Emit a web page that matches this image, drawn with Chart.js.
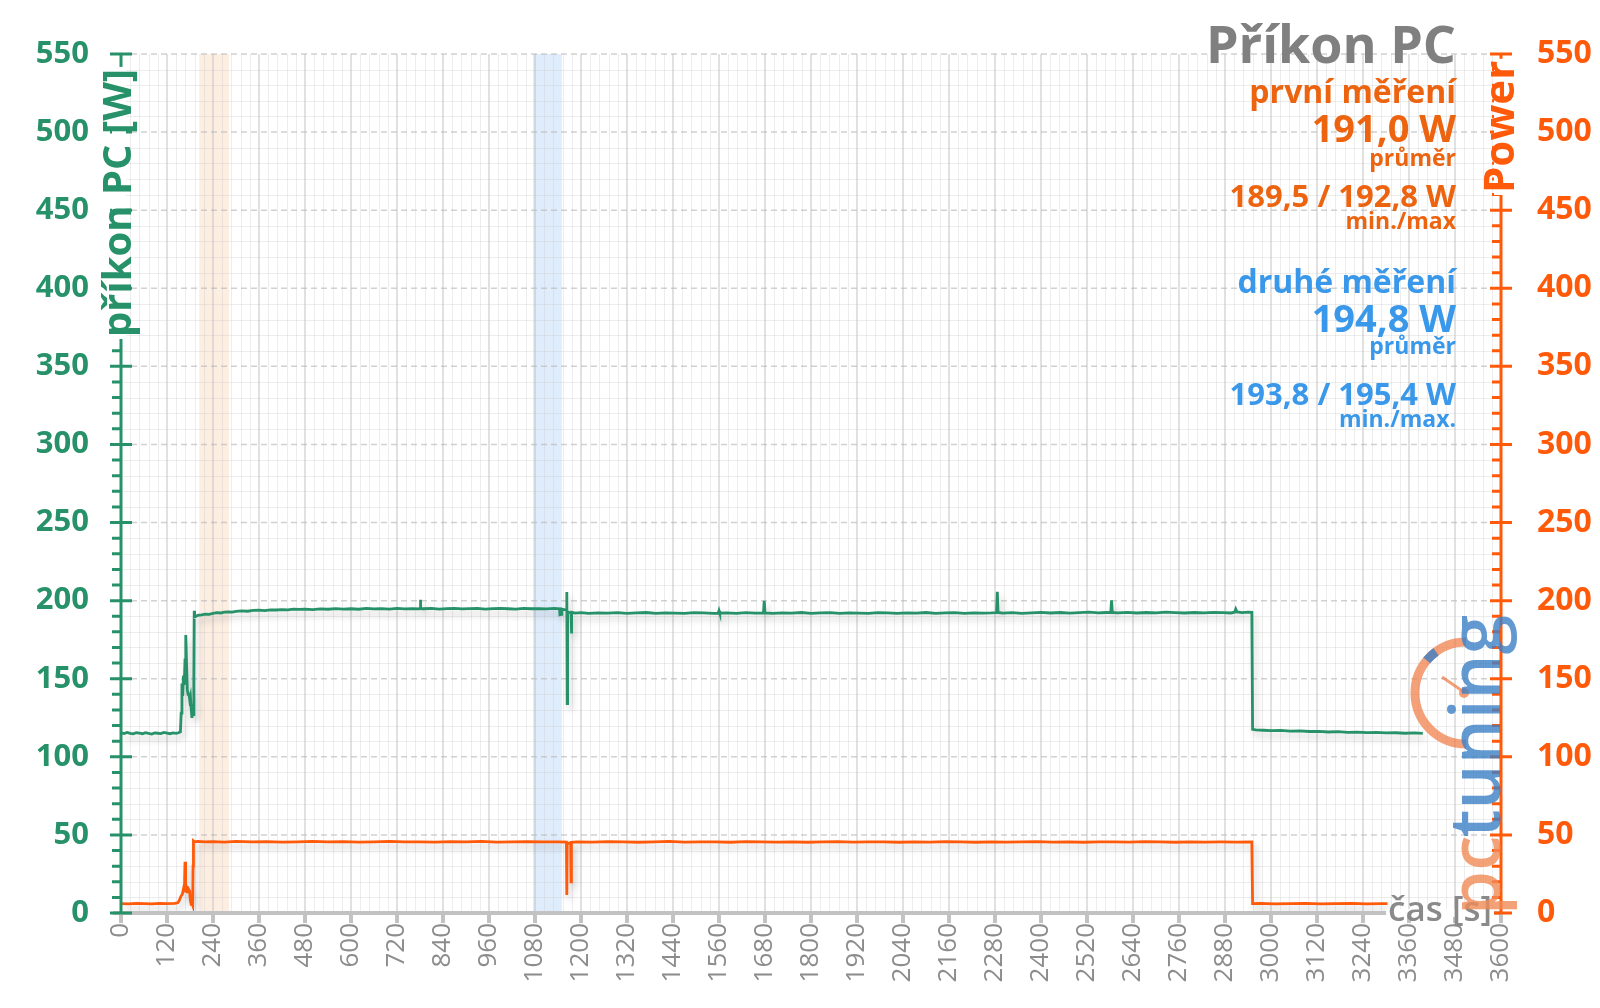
<!DOCTYPE html>
<html>
<head>
<meta charset="utf-8">
<script src="https://cdn.jsdelivr.net/npm/chart.js@4"></script>
<style>
html,body{margin:0;padding:0;background:#fff;}
canvas{display:block;}
</style>
</head>
<body>
<canvas id="c" width="1600" height="1008"></canvas>
<script>
// ---------- DATA ----------
const xTicksStep = 120;
const xMax = 3600;
const yMax = 550;

// příkon PC (green, left axis)
const greenT = [0,8,16,24,32,40,48,56,64,72,80,88,96,104,112,120,128,136,144,150,155,157,159,161,163,165,167,169,171,173,175,177,179,181,183,185,187,189,190,191,192,195,200,210,220,230,240,250,260,270,280,290,300,315,330,345,360,375,390,405,420,435,450,465,480,500,520,540,560,580,600,620,640,660,680,700,720,740,760,778,780,781,782,790,810,830,850,870,890,910,930,950,970,990,1010,1030,1050,1070,1090,1110,1130,1144,1145,1149,1150,1156,1162,1163,1164,1165,1170,1174,1175,1176,1185,1200,1220,1245,1270,1295,1320,1345,1370,1395,1420,1445,1470,1495,1520,1545,1558,1560,1562,1580,1605,1630,1655,1676,1678,1680,1700,1725,1750,1775,1800,1825,1850,1875,1900,1925,1950,1975,2000,2025,2050,2075,2100,2125,2150,2175,2200,2225,2250,2270,2284,2286,2288,2300,2325,2350,2375,2400,2425,2450,2475,2500,2525,2550,2570,2582,2584,2586,2600,2625,2650,2675,2700,2725,2750,2775,2800,2825,2850,2875,2895,2905,2908,2911,2925,2940,2950,2952,2960,2980,3000,3025,3050,3075,3100,3125,3150,3175,3200,3225,3250,3275,3300,3325,3350,3375,3396];
const greenV = [115.3,114.9,115.6,115.0,114.7,115.4,115.1,114.8,115.5,115.0,114.6,115.3,115.1,114.9,115.6,115.2,114.8,115.3,115.0,115.4,116.0,128,147,139,152,146,162,178,160,143,140,141,137,139,131,125,129,127,150,193.5,189.5,189.8,190.6,190.9,191.4,191.2,191.9,192.3,192.1,192.6,192.8,192.6,193.1,193.4,193.2,193.7,193.9,193.6,194.1,194.0,194.3,194.1,194.5,194.4,194.6,194.3,194.7,194.5,194.9,194.6,194.8,194.5,195.0,194.7,194.9,194.6,195.0,194.7,194.9,194.7,195.1,200.5,195.0,194.8,195.0,194.6,194.9,195.1,194.7,194.9,195.0,194.6,194.9,195.1,194.8,194.6,195.0,194.8,194.9,194.7,195.0,194.8,191.0,191.2,194.6,194.3,194.0,205.5,134,192.8,192.4,192.2,179,192.5,192.0,192.3,191.9,192.2,192.0,192.3,191.8,192.1,192.4,191.9,192.2,192.0,191.8,192.3,192.1,191.9,192.0,193.6,192.0,192.2,191.9,192.3,192.0,192.1,199.8,192.2,191.9,192.2,192.0,192.4,191.8,192.1,192.3,191.9,192.2,192.0,191.8,192.3,192.1,191.9,192.2,192.0,192.4,191.9,192.1,192.3,191.8,192.2,192.0,192.1,192.3,205.6,192.4,192.0,192.3,191.9,192.2,192.5,192.1,192.4,192.0,192.3,192.6,192.2,192.4,192.3,200.2,192.5,192.2,192.5,192.1,192.4,192.2,192.6,192.3,192.1,192.4,192.2,192.5,192.3,192.1,192.6,194.6,192.8,192.3,192.7,192.5,117.6,117.3,117.0,116.8,116.9,116.5,116.6,116.2,116.3,115.9,116.1,115.7,115.8,115.5,115.6,115.3,115.4,115.1,115.3,115.0];

// Power (orange, right axis)
const orangeT = [0,20,40,60,80,100,120,140,
  148,152,156,160,163,165,166,167,168,169,
  171,173,175,177,179,181,183,185,187,188,189,192,
  200,220,240,270,300,340,380,420,460,500,540,580,620,660,700,740,780,820,860,900,940,980,1020,1060,1100,1140,
  1162,1163,1164,1173,1174,1175,
  1190,1230,1270,1310,1350,1390,1430,1470,1510,1550,
  1590,1630,1670,1710,1750,1790,1830,1870,1910,1950,
  1990,2030,2070,2110,2150,2190,2230,2270,2310,2350,
  2390,2430,2470,2510,2550,2590,2630,2670,2710,2750,
  2790,2830,2870,2910,2950,
  2952,2970,3010,3050,3090,3130,3170,3210,3250,3290,3304];
const orangeV = [6.0,5.9,6.1,6.0,5.9,6.1,6.0,6.1,
  6.5,8,10.5,12,15.5,14,22,32.8,24,16,
  14.5,15.5,13.5,15.0,14.2,8,5.5,6.5,5.0,30,46.2,45.6,
  45.9,45.5,45.7,45.4,45.8,45.5,45.7,45.4,45.6,45.8,45.5,45.7,45.4,45.6,45.8,45.5,45.6,45.4,45.7,45.5,45.8,45.4,45.6,45.7,45.5,45.6,
  45.4,11.5,44.5,45.0,20,45.3,
  45.6,45.4,45.7,45.5,45.3,45.6,45.8,45.4,45.6,45.5,
  45.3,45.7,45.5,45.4,45.6,45.3,45.5,45.7,45.4,45.6,
  45.5,45.3,45.6,45.4,45.7,45.5,45.3,45.6,45.4,45.5,
  45.7,45.4,45.6,45.3,45.5,45.6,45.4,45.7,45.5,45.3,
  45.6,45.4,45.5,45.4,45.5,
  6.0,6.1,5.9,6.0,6.1,5.9,6.0,6.1,5.9,6.0,6.0];

// highlighted measurement windows (seconds)
const bandStart = [204, 1075];
const bandEnd = [282, 1150];

// side annotations
const infoLines = [
  ['Příkon PC', 'title'],
  ['první měření', 'o1'], ['191,0 W', 'o2'], ['průměr', 'o3'], ['189,5 / 192,8 W', 'o4'], ['min./max', 'o5'],
  ['druhé měření', 'b1'], ['194,8 W', 'b2'], ['průměr', 'b3'], ['193,8 / 195,4 W', 'b4'], ['min./max.', 'b5']
];
const yAxisTitle = 'příkon PC [W]';
const y2AxisTitle = 'Power';
const xAxisTitle = 'čas [s]';

// ---------- STYLE ----------
const GREEN = '#27916a';
const ORANGE = '#ff5a0a';
const ORANGE_T = '#ec6410';
const BLUE_T = '#3a98ea';
const GRAY_T = '#808080';
const FONT = '"Open Sans", "DejaVu Sans", sans-serif';
const infoStyle = {
  title:{y:63,size:52,color:GRAY_T},
  o1:{y:103,size:32,color:ORANGE_T}, o2:{y:142,size:38,color:ORANGE_T}, o3:{y:166,size:23,color:ORANGE_T}, o4:{y:207,size:31,color:ORANGE_T}, o5:{y:229,size:23,color:ORANGE_T},
  b1:{y:293,size:32,color:BLUE_T}, b2:{y:332,size:38,color:BLUE_T}, b3:{y:354,size:23,color:BLUE_T}, b4:{y:405,size:31,color:BLUE_T}, b5:{y:427,size:23,color:BLUE_T}
};

const greenData = greenT.map((t,i)=>({x:t,y:greenV[i]}));
const orangeData = orangeT.map((t,i)=>({x:t,y:orangeV[i]}));

const backPlugin = {
  id:'back',
  beforeDatasetsDraw(chart){
    const {ctx, chartArea:a, scales} = chart;
    const x = scales.x, y = scales.y;
    ctx.save();
    // bands
    const bandCols = ['rgba(250,200,160,0.30)','rgba(160,200,245,0.34)'];
    bandStart.forEach((s,i)=>{
      const p0 = x.getPixelForValue(s), p1 = x.getPixelForValue(bandEnd[i]);
      ctx.fillStyle = bandCols[i];
      ctx.fillRect(p0, a.top, p1-p0, a.bottom-a.top);
    });
    // minor grid
    ctx.lineWidth = 1;
    ctx.strokeStyle = 'rgba(200,200,200,0.32)';
    ctx.beginPath();
    for(let t=0;t<=xMax;t+=24){
      if(t%120===0) continue;
      const px = Math.round(x.getPixelForValue(t))+0.5;
      ctx.moveTo(px,a.top); ctx.lineTo(px,a.bottom);
    }
    for(let v=0;v<=yMax;v+=10){
      if(v%50===0) continue;
      const py = Math.round(y.getPixelForValue(v))+0.5;
      ctx.moveTo(a.left,py); ctx.lineTo(a.right,py);
    }
    ctx.stroke();
    // major vertical
    ctx.strokeStyle = 'rgba(190,190,190,0.6)';
    ctx.lineWidth = 1.5;
    ctx.beginPath();
    for(let t=120;t<xMax;t+=120){
      const px = x.getPixelForValue(t);
      ctx.moveTo(px,a.top); ctx.lineTo(px,a.bottom);
    }
    ctx.stroke();
    // major horizontal dashed
    ctx.setLineDash([6,4]);
    ctx.strokeStyle = 'rgba(185,185,185,0.65)';
    ctx.lineWidth = 1.5;
    ctx.beginPath();
    for(let v=50;v<=yMax;v+=50){
      const py = y.getPixelForValue(v);
      ctx.moveTo(a.left,py); ctx.lineTo(a.right,py);
    }
    ctx.stroke();
    ctx.restore();
  },
  beforeDatasetDraw(chart){
    const ctx = chart.ctx;
    ctx.save();
    ctx.shadowColor = 'rgba(0,0,0,0.2)';
    ctx.shadowBlur = 7;
    ctx.shadowOffsetX = 3;
    ctx.shadowOffsetY = 5;
  },
  afterDatasetDraw(chart){
    chart.ctx.restore();
  }
};

function rotTitle(ctx, text, cx, yBottom, size, color){
  ctx.save();
  ctx.font = 'bold '+size+'px '+FONT;
  const w = ctx.measureText(text).width;
  ctx.fillStyle = '#fff';
  ctx.fillRect(cx-7, yBottom-w-2, 14, w+4);
  ctx.translate(cx, yBottom);
  ctx.rotate(-Math.PI/2);
  ctx.fillStyle = color;
  ctx.textAlign = 'left';
  ctx.textBaseline = 'middle';
  ctx.fillText(text, 0, 1);
  ctx.restore();
}

const frontPlugin = {
  id:'front',
  afterDraw(chart){
    const {ctx, chartArea:a, scales} = chart;
    const x = scales.x, y = scales.y, y2 = scales.y2;
    ctx.save();
    // x axis line and ticks
    ctx.strokeStyle = '#c2c2c2';
    ctx.lineWidth = 4;
    ctx.beginPath();
    ctx.moveTo(a.left-8, a.bottom); ctx.lineTo(a.right, a.bottom);
    for(let t=0;t<=xMax;t+=xTicksStep){
      const px = x.getPixelForValue(t);
      ctx.moveTo(px, a.bottom); ctx.lineTo(px, a.bottom+10);
    }
    ctx.stroke();
    // left axis
    ctx.strokeStyle = GREEN;
    ctx.lineWidth = 3;
    ctx.beginPath();
    ctx.moveTo(a.left, a.top); ctx.lineTo(a.left, a.bottom+1);
    for(let v=0;v<=yMax;v+=10){
      const py = y.getPixelForValue(v);
      if(v%50===0){ ctx.moveTo(a.left-11, py); ctx.lineTo(a.left+11, py); }
      else { ctx.moveTo(a.left-9, py); ctx.lineTo(a.left, py); }
    }
    ctx.stroke();
    // right axis
    ctx.strokeStyle = ORANGE;
    ctx.beginPath();
    ctx.moveTo(a.right, a.top); ctx.lineTo(a.right, a.bottom+1);
    for(let v=0;v<=yMax;v+=10){
      const py = y2.getPixelForValue(v);
      if(v%50===0){ ctx.moveTo(a.right-11, py); ctx.lineTo(a.right+11, py); }
      else { ctx.moveTo(a.right-9, py); ctx.lineTo(a.right, py); }
    }
    ctx.stroke();
    ctx.restore();

    // axis titles
    rotTitle(ctx, yAxisTitle, a.left-2, 337, 40, GREEN);
    rotTitle(ctx, y2AxisTitle, a.right, 193, 42, ORANGE);

    // x title
    ctx.save();
    ctx.font = '600 35px '+FONT;
    ctx.textAlign = 'right';
    ctx.textBaseline = 'middle';
    const xw = ctx.measureText(xAxisTitle).width;
    ctx.fillStyle = '#fff';
    ctx.fillRect(1492-xw-2, a.bottom-4, xw+4, 8);
    ctx.fillStyle = '#8a8a8a';
    ctx.fillText(xAxisTitle, 1492, a.bottom-2);
    ctx.restore();

    // info text
    ctx.save();
    ctx.textAlign = 'right';
    ctx.textBaseline = 'alphabetic';
    infoLines.forEach(([s,k])=>{
      const st = infoStyle[k];
      ctx.font = 'bold '+st.size+'px '+FONT;
      ctx.fillStyle = st.color;
      ctx.fillText(s, 1456, st.y);
    });
    ctx.restore();

    // logo
    ctx.save();
    ctx.globalAlpha = 0.8;
    ctx.strokeStyle = 'rgba(240,125,70,0.9)';
    ctx.lineWidth = 9;
    ctx.beginPath();
    ctx.arc(1466, 693, 51, Math.PI/2, Math.PI*1.5);
    ctx.stroke();
    ctx.strokeStyle = '#3c7fc6';
    ctx.beginPath();
    ctx.arc(1466, 693, 51, Math.PI*1.22, Math.PI*1.30);
    ctx.stroke();
    ctx.strokeStyle = 'rgba(240,125,70,0.9)';
    ctx.lineWidth = 3;
    ctx.beginPath();
    ctx.moveTo(1442, 677); ctx.lineTo(1464, 692);
    ctx.stroke();
    ctx.fillStyle = 'rgba(240,125,70,0.9)';
    ctx.beginPath(); ctx.arc(1464, 693, 5, 0, Math.PI*2); ctx.fill();
    ctx.translate(1500, 915);
    ctx.rotate(-Math.PI/2);
    ctx.font = '600 71px '+FONT;
    ctx.textAlign = 'left';
    ctx.textBaseline = 'alphabetic';
    ctx.fillStyle = '#f08a55';
    ctx.fillText('pc', 0, 0);
    const pw = ctx.measureText('pc').width;
    ctx.fillStyle = '#3c7fc6';
    ctx.fillText('tuning', pw-2, 0);
    ctx.restore();
  }
};

new Chart(document.getElementById('c'), {
  type:'line',
  data:{
    datasets:[
      {label:'příkon PC', data:greenData, yAxisID:'y', borderColor:GREEN, borderWidth:2.8, pointRadius:0, tension:0, fill:false},
      {label:'Power', data:orangeData, yAxisID:'y2', borderColor:ORANGE, borderWidth:2.8, pointRadius:0, tension:0, fill:false}
    ]
  },
  options:{
    responsive:false,
    animation:false,
    devicePixelRatio:1,
    layout:{padding:{top:54,left:0,right:0,bottom:0}},
    plugins:{legend:{display:false}, tooltip:{enabled:false}},
    scales:{
      x:{
        type:'linear', min:0, max:xMax,
        ticks:{stepSize:xTicksStep, autoSkip:false, maxRotation:90, minRotation:90, color:'#8c8c8c', font:{family:FONT, size:26}, padding:2,
          callback:(v)=>String(v)},
        grid:{display:false}, border:{display:false},
        afterFit(s){ s.height = 95; }
      },
      y:{
        position:'left', min:0, max:yMax,
        ticks:{stepSize:50, color:GREEN, font:{family:FONT, size:31, weight:'bold'}, padding:24},
        grid:{display:false}, border:{display:false},
        afterFit(s){ s.width = 121; }
      },
      y2:{
        position:'right', min:0, max:yMax,
        ticks:{stepSize:50, color:ORANGE, font:{family:FONT, size:32, weight:'bold'}, padding:28},
        grid:{display:false}, border:{display:false},
        afterFit(s){ s.width = 99; }
      }
    }
  },
  plugins:[backPlugin, frontPlugin]
});
</script>
</body>
</html>
